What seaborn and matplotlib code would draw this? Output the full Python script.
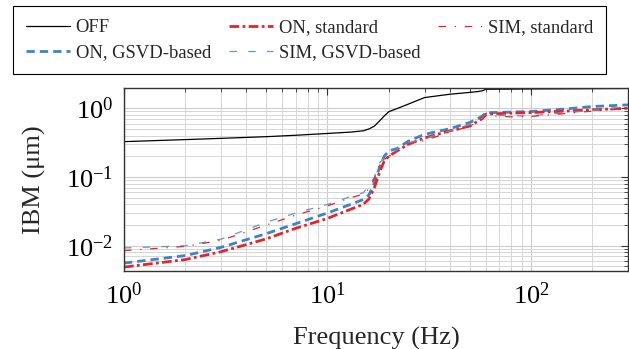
import numpy as np
import pandas as pd
import matplotlib
matplotlib.use('Agg')
import matplotlib.pyplot as plt
import seaborn as sns
from matplotlib.ticker import LogLocator, NullFormatter

# Значения
freq = [1, 2, 3, 5, 7, 10, 13, 15, 16, 17, 18, 19, 20, 22, 25, 30, 40, 50, 55, 58, 60, 80, 100, 150, 200, 300]

off = [0.327, 0.35, 0.365, 0.386, 0.405, 0.43, 0.45, 0.47, 0.50, 0.55, 0.65, 0.77, 0.89, 0.99, 1.15, 1.43,
       1.6, 1.7, 1.75, 1.8, 1.89, 1.9, 1.91, 1.92, 1.93, 1.94]
on_gsvd = [0.0056, 0.0072, 0.0095, 0.015, 0.021, 0.030, 0.040, 0.047, 0.055, 0.082, 0.136, 0.20, 0.24, 0.26,
           0.333, 0.417, 0.505, 0.62, 0.71, 0.78, 0.86, 0.88, 0.895, 0.98, 1.06, 1.12]
on_std = [0.0049, 0.0063, 0.0082, 0.0126, 0.018, 0.025, 0.034, 0.040, 0.048, 0.070, 0.115, 0.17, 0.20, 0.24,
          0.30, 0.37, 0.47, 0.55, 0.65, 0.72, 0.82, 0.85, 0.865, 0.91, 0.95, 1.0]
sim_gsvd = [0.0093, 0.0100, 0.0125, 0.022, 0.030, 0.040, 0.052, 0.059, 0.075, 0.10, 0.16, 0.19, 0.21, 0.25,
            0.31, 0.36, 0.47, 0.58, 0.66, 0.72, 0.80, 0.77, 0.78, 0.86, 0.93, 1.05]
sim_std = [0.0085, 0.0098, 0.0120, 0.020, 0.028, 0.038, 0.050, 0.056, 0.068, 0.095, 0.15, 0.18, 0.20, 0.24,
           0.30, 0.34, 0.45, 0.55, 0.63, 0.70, 0.78, 0.75, 0.76, 0.84, 0.91, 1.0]

RED = '#e8232a'
BLUE = '#3a85c6'
BLUE_LIGHT = '#5b9bd0'

sns.set_theme(style='white')
plt.rcParams['font.family'] = ['Liberation Serif', 'DejaVu Serif']
plt.rcParams['mathtext.fontset'] = 'stix'

fig = plt.figure(figsize=(6.29, 3.49), dpi=100)
ax = fig.add_axes([124 / 629, 1 - 271 / 349, 504 / 629, 183 / 349])

sns.lineplot(x=freq, y=off, ax=ax, color='black', lw=0.9, label='OFF')
sns.lineplot(x=freq, y=on_gsvd, ax=ax, color=BLUE, lw=2.0, linestyle=(0, (3, 1.8)), label='ON, GSVD-based')
sns.lineplot(x=freq, y=on_std, ax=ax, color=RED, lw=2.0, linestyle=(0, (3.5, 1.2, 1, 1.2)), label='ON, standard')
sns.lineplot(x=freq, y=sim_gsvd, ax=ax, color=BLUE_LIGHT, lw=0.9, linestyle=(0, (6, 9)), label='SIM, GSVD-based')
sns.lineplot(x=freq, y=sim_std, ax=ax, color=RED, lw=0.9, linestyle=(0, (6, 7, 1, 7)), label='SIM, standard')

ax.set_xscale('log')
ax.set_yscale('log')
ax.set_xlim(1, 300)
ax.set_ylim(0.0043, 1.97)

ax.xaxis.set_minor_locator(LogLocator(base=10, subs=np.arange(2, 10)))
ax.yaxis.set_minor_locator(LogLocator(base=10, subs=np.arange(2, 10)))
ax.xaxis.set_minor_formatter(NullFormatter())
ax.yaxis.set_minor_formatter(NullFormatter())

ax.grid(True, which='major', color='#cccccc', lw=0.8)
ax.grid(True, which='minor', color='#d6d6d6', lw=0.7)
ax.set_axisbelow(True)

ax.tick_params(which='both', direction='in', top=True, right=True, colors='#333333', labelcolor='black',
               labelsize=19)
ax.tick_params(which='major', length=5, width=0.8, pad=8)
ax.tick_params(which='minor', length=3, width=0.6)
for s in ax.spines.values():
    s.set_color('#333333')
    s.set_linewidth(1.0)

ax.set_xlabel('Frequency (Hz)', fontsize=19, labelpad=13)
ax.set_ylabel('IBM (μm)', fontsize=19, labelpad=14)

ax.get_legend().remove()
leg = fig.legend(handles=ax.get_lines()[:5], loc='upper left', ncol=3, mode='expand',
                 bbox_to_anchor=(13 / 629, 1 - 6 / 349, 593 / 629, 0.0), bbox_transform=fig.transFigure,
                 fancybox=False, edgecolor='black', framealpha=1, fontsize=13.4,
                 handlelength=2.37, handletextpad=0.3, labelspacing=0.45, borderpad=0.7, borderaxespad=0)
leg.get_frame().set_linewidth(0.8)

plt.savefig('out.png', dpi=100)
